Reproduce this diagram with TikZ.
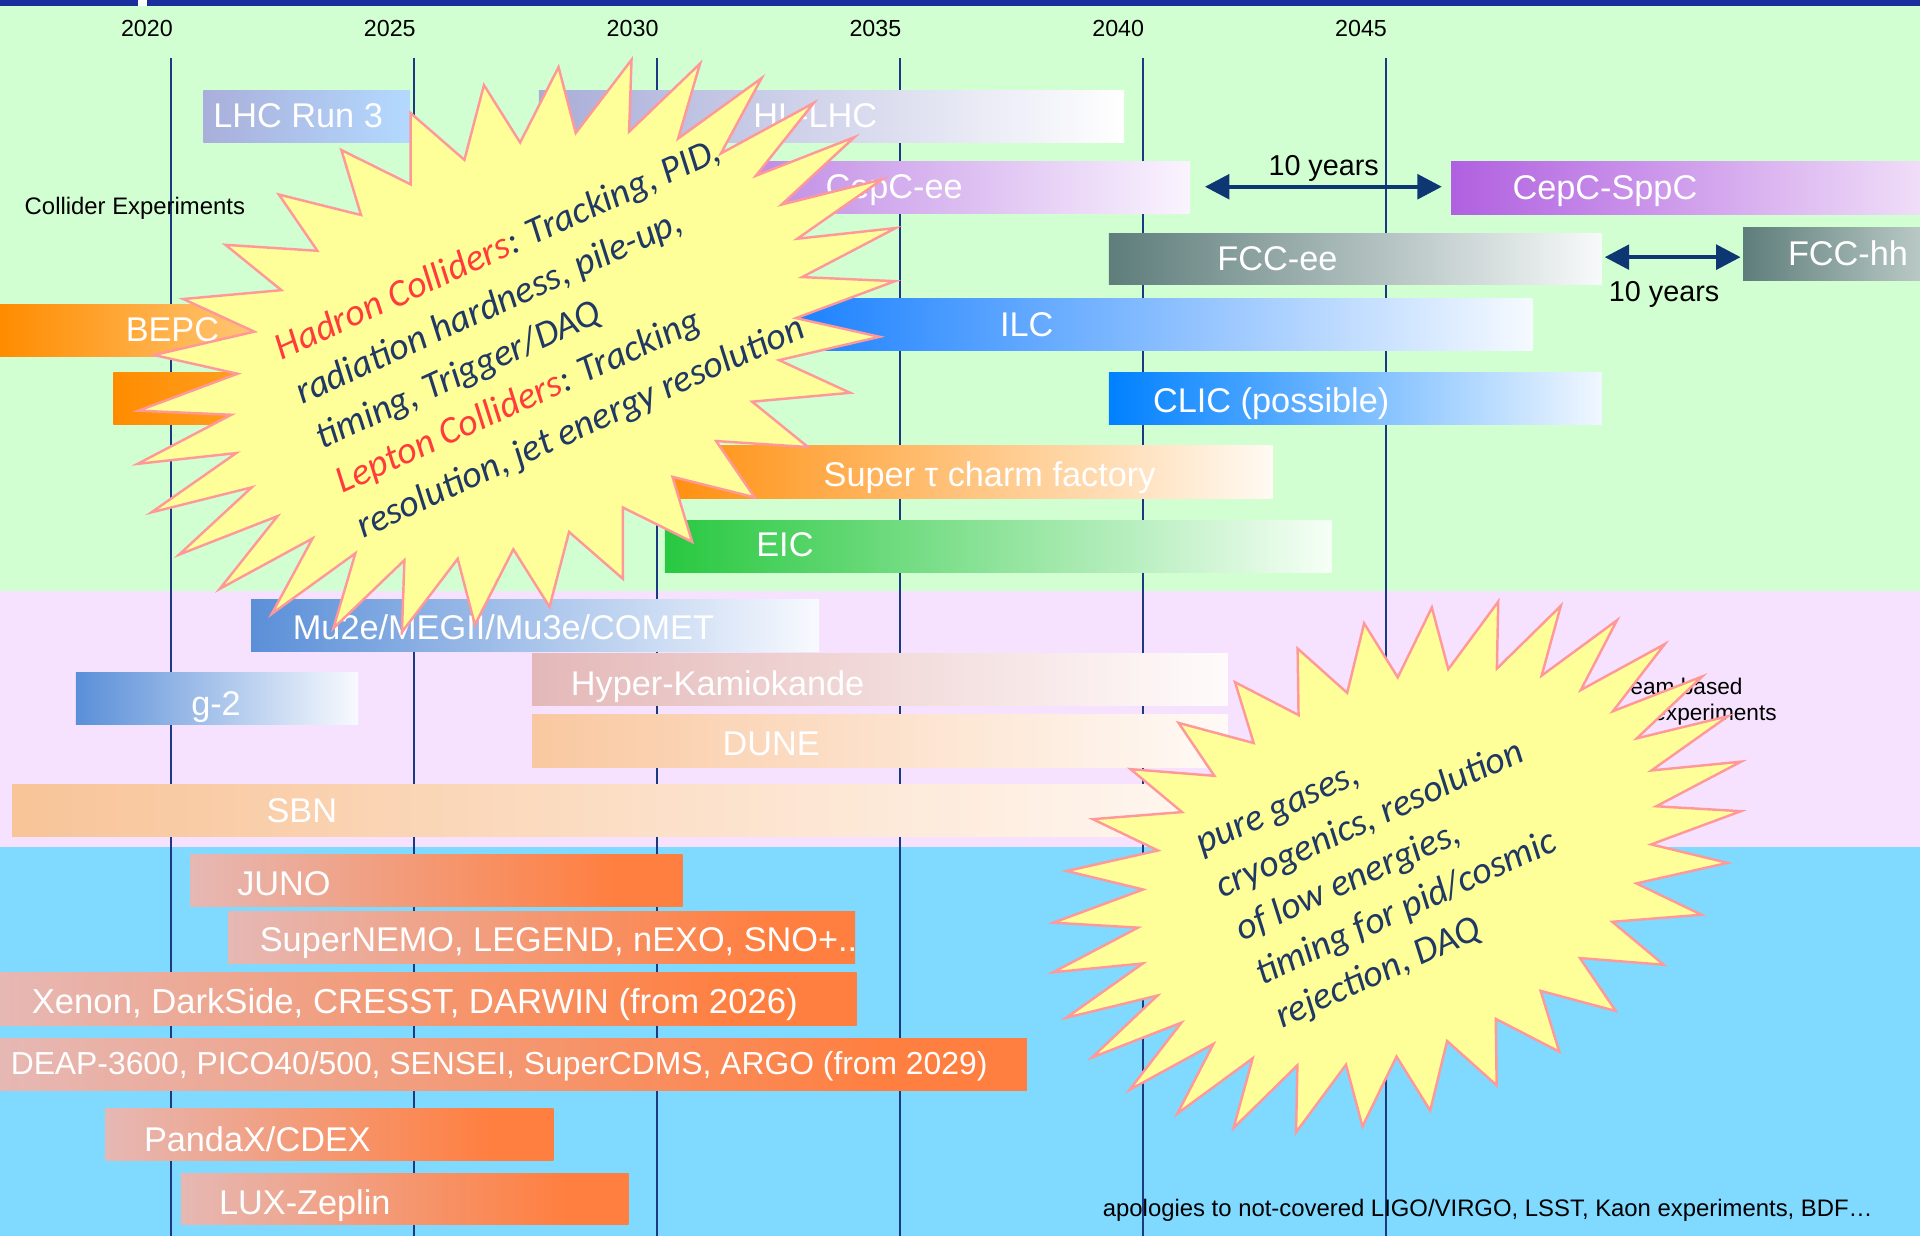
\documentclass[tikz,border=0pt]{standalone}
\usepackage{fontspec}
\setmainfont{Liberation Sans}
\newfontfamily\burstfont{Carlito}
\usetikzlibrary{arrows.meta}

\definecolor{bggreen}{HTML}{D2FFD2}
\definecolor{bgpink}{HTML}{F6E2FE}
\definecolor{bgblue}{HTML}{80D9FF}
\definecolor{topband}{HTML}{1A2E9C}
\definecolor{vline}{HTML}{1B3A82}
\definecolor{arrowc}{HTML}{0E3673}
\definecolor{starfill}{HTML}{FFFF99}
\definecolor{stardraw}{HTML}{FF9999}
\definecolor{navy}{HTML}{1F3864}
\definecolor{hred}{HTML}{FF3B3B}
\definecolor{dmL}{HTML}{E6B8B4}
\definecolor{dmR}{HTML}{FF7F40}
\definecolor{lhcL}{HTML}{A9AFDA}\definecolor{lhcR}{HTML}{B3D9FF}
\definecolor{hlL}{HTML}{A8ADD8}
\definecolor{cepL}{HTML}{BE86E4}\definecolor{cepR}{HTML}{FAF4FE}
\definecolor{sppL}{HTML}{B060E0}\definecolor{sppR}{HTML}{F0DEF8}
\definecolor{fccL}{HTML}{5E7D7B}\definecolor{fccR}{HTML}{F8FAFA}\definecolor{fcchR}{HTML}{BACAC6}
\definecolor{ilcL}{HTML}{0A78FF}\definecolor{ilcR}{HTML}{F6FAFF}
\definecolor{bepL}{HTML}{FF8C00}\definecolor{bepR}{HTML}{FFC878}
\definecolor{ortwoR}{HTML}{FFB040}
\definecolor{clicL}{HTML}{0080FF}\definecolor{clicR}{HTML}{F0F7FF}
\definecolor{tauL}{HTML}{FF9010}\definecolor{tauR}{HTML}{FFFAF3}
\definecolor{eicL}{HTML}{28C840}\definecolor{eicR}{HTML}{F6FFF6}
\definecolor{muL}{HTML}{5A8FD8}\definecolor{muR}{HTML}{F8FAFE}
\definecolor{hkL}{HTML}{E4B8B8}\definecolor{hkR}{HTML}{FFFBFB}
\definecolor{duneL}{HTML}{F9C8A0}\definecolor{duneR}{HTML}{FFFAF6}
\definecolor{sbnL}{HTML}{F8C498}\definecolor{sbnR}{HTML}{FFF8F2}

\pgfdeclarehorizontalshading{dmshade}{100bp}{color(0bp)=(dmL); color(25bp)=(dmL); color(68bp)=(dmR); color(100bp)=(dmR)}

\tikzset{
  bar/.style={inner sep=0pt, outer sep=0pt, anchor=north west, draw=none},
  dmbarst/.style={bar, shade, shading=dmshade},
  lbl/.style={text=white, anchor=base west, inner sep=0pt, font=\fontsize{28}{32}\selectfont},
  yearlbl/.style={anchor=base, inner sep=0pt, font=\fontsize{19}{22}\selectfont},
  note/.style={anchor=base west, inner sep=0pt, font=\fontsize{19}{22}\selectfont},
  yrline/.style={draw=vline, line width=1.6pt},
  dbl/.style={draw=arrowc, line width=3.5pt, {Triangle[length=20pt,width=20pt]}-{Triangle[length=20pt,width=20pt]}},
  yrs/.style={anchor=base, inner sep=0pt, font=\fontsize{23.5}{26}\selectfont},
  burst/.style={fill=starfill, draw=stardraw, line width=2pt, line join=miter},
  bursttext/.style={anchor=north west, align=left, inner sep=0pt, text=navy},
}

\newcommand{\gbar}[7]{\node[bar, left color=#6, right color=#7, minimum width={(#3)-(#2)}, minimum height={(#5)-(#4)}] (#1) at (#2,#4) {};}
\newcommand{\dmbar}[5]{\node[dmbarst, minimum width={(#3)-(#2)}, minimum height={(#5)-(#4)}] (#1) at (#2,#4) {};}

\begin{document}
\begin{tikzpicture}[x=1pt, y=-1pt]
\useasboundingbox (0,0) rectangle (1568,1009);
% backgrounds
\fill[bggreen] (0,4) rectangle (1568,483);
\fill[bgpink] (0,483) rectangle (1568,691.5);
\fill[bgblue] (0,691.5) rectangle (1568,1009);
\fill[topband] (0,0) rectangle (1568,4.5);
\fill[white] (113,0) rectangle (120,4.5);

% year lines and labels
\foreach \i/\x/\yr in {1/140/2020, 2/338.3/2025, 3/536.6/2030, 4/734.9/2035, 5/933.2/2040, 6/1131.5/2045}{
  \coordinate (vt\i) at (\x,47);
  \coordinate (vb\i) at (\x,1009);
  \draw[yrline] (vt\i) -- (vb\i);
  \node[yearlbl] (yr\i) at (\x-20,29.4) {\yr};
}

% collider bars
\gbar{lhcthree}{166}{335}{74}{116.5}{lhcL}{lhcR}
\gbar{hllhc}{440}{918}{74}{116.5}{hlL}{white}
\gbar{cepcee}{600}{971.5}{131.5}{174.5}{cepL}{cepR}
\gbar{cepcsppc}{1185}{1570}{132}{175}{sppL}{sppR}
\gbar{fccee}{905.5}{1308}{190.3}{232.5}{fccL}{fccR}
\gbar{fcchh}{1423.6}{1570}{186}{229}{fccL}{fcchR}
\gbar{ilc}{600}{1251.5}{243.4}{286.4}{ilcL}{ilcR}
\gbar{bepc}{0}{215}{248.3}{291}{bepL}{bepR}
\gbar{ortwo}{92.5}{300}{303.8}{346.8}{bepL}{ortwoR}
\gbar{clic}{905.5}{1308}{303.8}{346.8}{clicL}{clicR}
\gbar{supertau}{550}{1039.5}{364.2}{407.3}{tauL}{tauR}
\gbar{eic}{543}{1087.5}{424.7}{467.7}{eicL}{eicR}
% beam based bars
\gbar{mutwoe}{205}{669}{489.2}{532.2}{muL}{muR}
\gbar{gtwo}{62}{292.5}{548.8}{591.8}{muL}{muR}
\gbar{hyperk}{434.5}{1002.5}{533.3}{576.3}{hkL}{hkR}
\gbar{dune}{434.5}{1002.5}{583.9}{627}{duneL}{duneR}
\gbar{sbn}{10}{1002.5}{640.3}{683.3}{sbnL}{sbnR}
% non-accelerator bars
\dmbar{juno}{155.3}{557.5}{697.5}{740.5}
\dmbar{supernemo}{186}{698.4}{744}{786.7}
\dmbar{xenon}{0}{699.5}{794.6}{837.4}
\dmbar{deap}{0}{838.7}{847.7}{890.4}
\dmbar{pandax}{86}{452}{904.9}{947.9}
\dmbar{lux}{147.8}{513.4}{958}{1000.2}

% bar labels
\node[lbl] (lhcthreet) at (174,104) {LHC Run 3};
\node[lbl] (hllhct) at (615,104.3) {HL-LHC};
\node[lbl] (cepceet) at (674,162.5) {CepC-ee};
\node[lbl] (cepcsppct) at (1235,163) {CepC-SppC};
\node[lbl] (fcceet) at (994,220.5) {FCC-ee};
\node[lbl] (fcchht) at (1460,217) {FCC-hh};
\node[lbl] (ilct) at (816.5,274.7) {ILC};
\node[lbl] (bepct) at (102.5,279) {BEPC};
\node[lbl] (clict) at (941.5,337) {CLIC (possible)};
\node[lbl] (supertaut) at (672.5,397) {Super τ charm factory};
\node[lbl] (eict) at (617.5,454.5) {EIC};
\node[lbl] (mutwoet) at (239,522) {Mu2e/MEGII/Mu3e/COMET};
\node[lbl] (gtwot) at (156,584) {g-2};
\node[lbl] (hyperkt) at (466,568) {Hyper-Kamiokande};
\node[lbl] (dunet) at (590,617) {DUNE};
\node[lbl] (sbnt) at (217.5,672) {SBN};
\node[lbl] (junot) at (193.6,731.5) {JUNO};
\node[lbl] (supernemot) at (212,777) {SuperNEMO, LEGEND, nEXO, SNO+..};
\node[lbl, font=\fontsize{28.3}{32}\selectfont] (xenont) at (25.8,827.5) {Xenon, DarkSide, CRESST, DARWIN (from 2026)};
\node[lbl, font=\fontsize{26}{30}\selectfont] (deapt) at (8.6,877.5) {DEAP-3600, PICO40/500, SENSEI, SuperCDMS, ARGO (from 2029)};
\node[lbl] (pandaxt) at (117.4,940) {PandaX/CDEX};
\node[lbl] (luxt) at (178.7,991.5) {LUX-Zeplin};

% section notes
\node[note, font=\fontsize{19.5}{22}\selectfont] (collexp) at (20,175) {Collider Experiments};
\node[note, font=\fontsize{18.5}{22}\selectfont] (beamone) at (1319,567) {Beam based};
\node[note, font=\fontsize{18.5}{22}\selectfont] (beamtwo) at (1350,588.5) {experiments};
\node[note, font=\fontsize{19.5}{22}\selectfont] (apol) at (900.5,993.6) {apologies to not-covered LIGO/VIRGO, LSST, Kaon experiments, BDF…};

% ten-year arrows
\coordinate (aoneL) at (984,152.5);
\coordinate (aoneR) at (1177.5,152.5);
\draw[dbl] (aoneL) -- (aoneR);
\node[yrs] (tenone) at (1081,143) {10 years};
\coordinate (atwoL) at (1310.5,210);
\coordinate (atwoR) at (1421.5,210);
\draw[dbl] (atwoL) -- (atwoR);
\node[yrs] (tentwo) at (1359,246.4) {10 years};

% starburst 1 (colliders)
\begin{scope}[shift={(422,282.5)}, rotate=24.5]
\draw[burst] (0,-209) \foreach \k in {1,...,63}{ -- ({(0.875+0.125*cos(180*\k))*328*cos(90+5.625*\k)}, {-(0.875+0.125*cos(180*\k))*209*sin(90+5.625*\k)}) } -- cycle;
\end{scope}
\begin{scope}[shift={(230,294)}, rotate=24.5, transform shape]
\node[bursttext, font=\burstfont\itshape\fontsize{31}{40}\selectfont] (hcoll) at (0,-25) {\rule{0pt}{25pt}\textcolor{hred}{Hadron Colliders}: Tracking, PID,\\
radiation hardness, pile-up,\\
timing, Trigger/DAQ\\
\textcolor{hred}{Lepton Colliders}: Tracking\\
resolution, jet energy resolution};
\end{scope}

% starburst 2 (non-accelerator)
\begin{scope}[shift={(1141,708)}, rotate=24.5]
\draw[burst] (0,-196) \foreach \k in {1,...,63}{ -- ({(0.875+0.125*cos(180*\k))*297*cos(90+5.625*\k)}, {-(0.875+0.125*cos(180*\k))*196*sin(90+5.625*\k)}) } -- cycle;
\end{scope}
\begin{scope}[shift={(982,698)}, rotate=24.5, transform shape]
\node[bursttext, font=\burstfont\itshape\fontsize{31}{39}\selectfont] (pgas) at (0,-25) {\rule{0pt}{25pt}pure gases,\\
cryogenics, resolution\\
of low energies,\\
timing for pid/cosmic\\
rejection, DAQ};
\end{scope}
\end{tikzpicture}
\end{document}
